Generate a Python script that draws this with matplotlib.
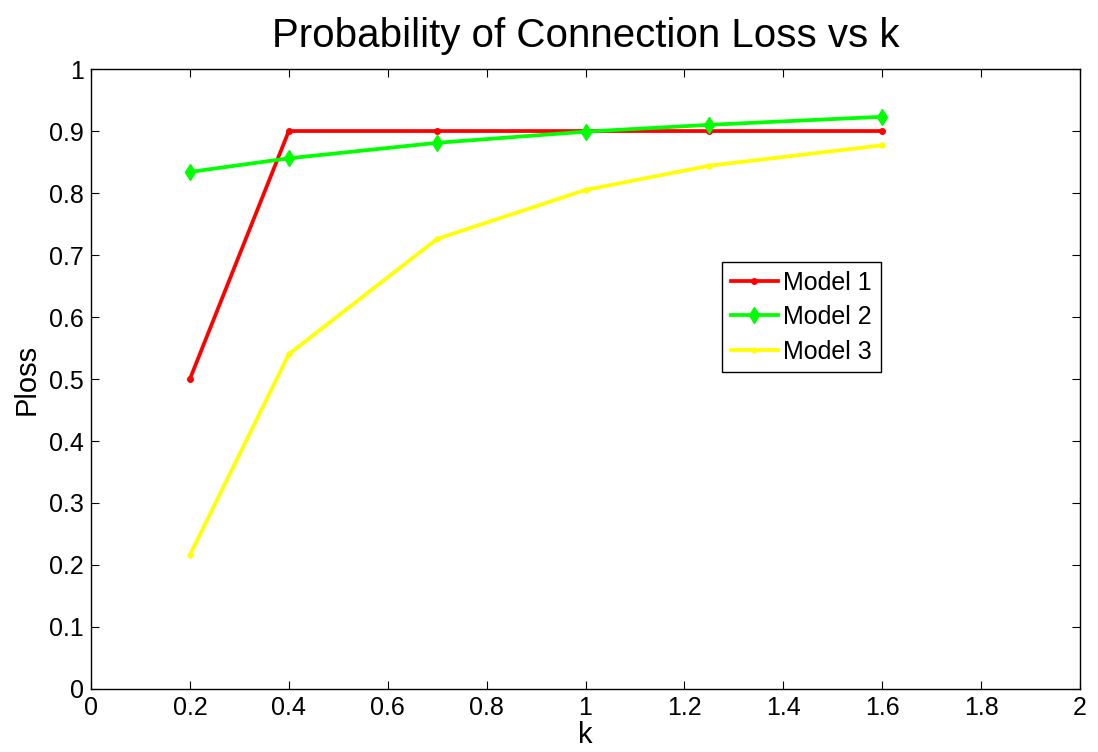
import matplotlib
matplotlib.use("Agg")
import matplotlib.pyplot as plt

plt.rcParams['font.family'] = ['Liberation Sans', 'DejaVu Sans']

k = [0.2, 0.4, 0.7, 1.0, 1.25, 1.6]
model1 = [0.5, 0.9, 0.9, 0.9, 0.9, 0.9]
model2 = [0.834, 0.856, 0.881, 0.899, 0.910, 0.923]
model3 = [0.216, 0.540, 0.726, 0.805, 0.844, 0.877]

fig = plt.figure(figsize=(10.98, 7.52), dpi=100)
ax = fig.add_axes([0.0829, 0.0838, 0.9007, 0.8244])

ax.plot(k, model1, color=(1, 0, 0), lw=2.7, marker='.', ms=8, label='Model 1')
ax.plot(k, model2, color=(0, 1, 0), lw=2.7, marker='d', ms=8, label='Model 2')
ax.plot(k, model3, color=(1, 1, 0), lw=2.7, marker='.', ms=7, label='Model 3')

ax.set_xlim(0, 2)
ax.set_ylim(0, 1)
ax.set_xticks([0, 0.2, 0.4, 0.6, 0.8, 1, 1.2, 1.4, 1.6, 1.8, 2])
ax.set_xticklabels(['0', '0.2', '0.4', '0.6', '0.8', '1', '1.2', '1.4', '1.6', '1.8', '2'])
ax.set_yticks([0, 0.1, 0.2, 0.3, 0.4, 0.5, 0.6, 0.7, 0.8, 0.9, 1])
ax.set_yticklabels(['0', '0.1', '0.2', '0.3', '0.4', '0.5', '0.6', '0.7', '0.8', '0.9', '1'])
ax.tick_params(direction='in', top=True, right=True, labelsize=18, length=6, width=0.8, pad=5)
for s in ax.spines.values():
    s.set_linewidth(1.0)

ax.set_title('Probability of Connection Loss vs k', fontsize=29, pad=16)
ax.set_xlabel('k', fontsize=21, labelpad=1)
ax.set_ylabel('Ploss', fontsize=21, labelpad=6)

leg = ax.legend(loc='upper left', bbox_to_anchor=(0.638, 0.689), borderaxespad=0,
                fontsize=18, frameon=True, fancybox=False, edgecolor='black',
                framealpha=1, handlelength=1.9, borderpad=0.35, labelspacing=0.42,
                handletextpad=0.2)
leg.get_frame().set_linewidth(1.0)

fig.savefig('out.png', dpi=100)
